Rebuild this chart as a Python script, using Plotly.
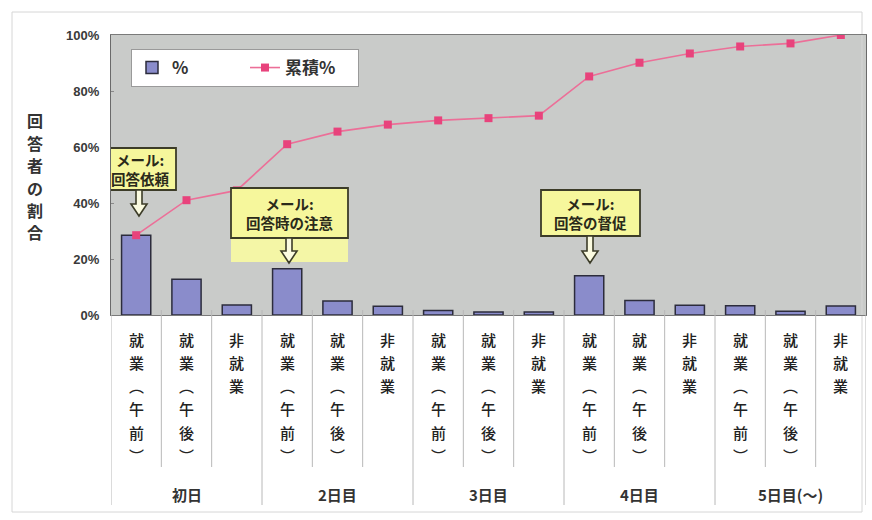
import plotly.graph_objects as go

# Response share per delivery slot (bars) and running total (line), in %
slot_labels = ["就業（午前）", "就業（午後）", "非就業"] * 5
day_labels = ["初日", "2日目", "3日目", "4日目", "5日目(～)"]
share_pct = [28.5, 12.8, 3.6, 16.5, 5.0, 3.1, 1.6, 1.1, 1.1, 14.0, 5.2, 3.5, 3.3, 1.3, 3.2]
cumulative_pct = [28.5, 41.0, 44.5, 61.0, 65.5, 68.0, 69.5, 70.3, 71.2, 85.2, 90.1, 93.4, 95.9, 97.0, 100.0]
y_ticks = [0, 20, 40, 60, 80, 100]
y_tick_text = ["0%", "20%", "40%", "60%", "80%", "100%"]
y_title = "回答者の割合"

# Reminder e-mail callouts: (slot index, box text)
callouts = [(0, "メール:<br>回答依頼"), (3, "メール:<br>回答時の注意"), (9, "メール:<br>回答の督促")]

W, H = 872, 520
ML, MR, MT, MB = 111, 6, 35, 205
PW, PH = W - ML - MR, H - MT - MB
N = len(share_pct)
XU = PW / N          # pixels per category
YU = PH / 100.0      # pixels per percent

JP = "Noto Sans CJK JP, sans-serif"
x_idx = list(range(N))

fig = go.Figure()
fig.add_trace(go.Bar(
    x=x_idx, y=share_pct, name="<b>%</b>", width=0.58,
    marker=dict(color="#8a8ccb", line=dict(color="#2c2c3c", width=1.5)),
))
fig.add_trace(go.Scatter(
    x=x_idx, y=cumulative_pct, name="<b>累積%</b>", mode="lines+markers",
    line=dict(color="#ec6f98", width=1.6),
    marker=dict(symbol="square", size=8, color="#e8437c"),
))

shapes = []
annotations = []

# vertical category labels, one glyph per row
vert_map = {"（": "︵", "）": "︶"}
row_y = [339, 362, 385, 408, 432, 455]
for i, lab in enumerate(slot_labels):
    for r, ch in enumerate(lab):
        annotations.append(dict(
            x=i, y=(MT + PH - row_y[r]) / PH, xref="x", yref="paper",
            text=vert_map.get(ch, ch), showarrow=False,
            font=dict(family=JP, size=15, color="#222222", weight=500),
            xanchor="center", yanchor="middle",
        ))

# separators below the axis
for b in range(N + 1):
    xb = b - 0.5
    group_edge = (b % 3 == 0)
    bottom = 505 if group_edge else 467
    shapes.append(dict(
        type="line", xref="x", yref="paper", x0=xb, x1=xb,
        y0=(MT + PH - bottom) / PH, y1=5 / PH if 0 < b < N else 0,
        line=dict(color="#b8b8b8", width=1),
    ))

# day group labels
for g, lab in enumerate(day_labels):
    annotations.append(dict(
        x=3 * g + 1, y=(MT + PH - 494) / PH, xref="x", yref="paper",
        text="<b>" + lab + "</b>", showarrow=False,
        font=dict(family=JP, size=15, color="#333333"),
        xanchor="center", yanchor="middle",
    ))

# y-axis title, stacked vertically one glyph at a time
for k, ch in enumerate(y_title):
    annotations.append(dict(
        x=(35 - ML) / PW, y=(MT + PH - (120 + 22.5 * k)) / PH, xref="paper", yref="paper",
        text="<b>" + ch + "</b>", showarrow=False,
        font=dict(family=JP, size=16, color="#333333"),
        xanchor="center", yanchor="middle",
    ))

# callout boxes with hollow down arrows (box edges given in pixel offsets)
box_px = [
    dict(l=104, r=176, t=148, b=190, ax=139, tip=216, pad=None),
    dict(l=231, r=348, t=188, b=238, ax=289, tip=263, pad=262),
    dict(l=541, r=640, t=190, b=236, ax=590, tip=263, pad=None),
]


def px_x(p):
    return (p - ML) / XU - 0.5


def px_y(p):
    return (MT + PH - p) / YU


for (idx, txt), bp in zip(callouts, box_px):
    if bp["pad"]:
        shapes.append(dict(
            type="rect", xref="x", yref="y",
            x0=px_x(bp["l"]), x1=px_x(bp["r"]), y0=px_y(bp["pad"]), y1=px_y(bp["b"]),
            fillcolor="#f4f6a6", line=dict(width=0), layer="above",
        ))
    shapes.append(dict(
        type="rect", xref="x", yref="y",
        x0=px_x(bp["l"]), x1=px_x(bp["r"]), y0=px_y(bp["b"]), y1=px_y(bp["t"]),
        fillcolor="#f6f79c", line=dict(color="#3c3c28", width=1.8), layer="above",
    ))
    cx, top, tip = bp["ax"], bp["b"], bp["tip"]
    neck = tip - 12
    pts = [(cx - 3, top), (cx + 3, top), (cx + 3, neck), (cx + 8, neck), (cx, tip),
           (cx - 8, neck), (cx - 3, neck)]
    path = "M " + " L ".join(f"{px_x(a):.4f},{px_y(c):.4f}" for a, c in pts) + " Z"
    shapes.append(dict(
        type="path", xref="x", yref="y", path=path,
        fillcolor="#fbfbe0", line=dict(color="#3c3c28", width=1.6), layer="above",
    ))
    annotations.append(dict(
        x=px_x((bp["l"] + bp["r"]) / 2), y=px_y((bp["t"] + bp["b"]) / 2),
        xref="x", yref="y", text="<b>" + txt.replace("<br>", "</b><br><b>") + "</b>",
        showarrow=False, font=dict(family=JP, size=14.5, color="#2a2a1a"),
        xanchor="center", yanchor="middle",
    ))

# faint outer frame of the chart
shapes.append(dict(
    type="rect", xref="paper", yref="paper",
    x0=(12 - ML) / PW, x1=(862 - ML) / PW, y0=(MT + PH - 512) / PH, y1=(MT + PH - 12) / PH,
    line=dict(color="#d6d6d6", width=1), fillcolor="rgba(0,0,0,0)", layer="below",
))

fig.update_layout(
    width=W, height=H,
    margin=dict(l=ML, r=MR, t=MT, b=MB),
    paper_bgcolor="white", plot_bgcolor="#c9cbc9",
    showlegend=True,
    legend=dict(
        orientation="h", x=(131 - ML) / PW, y=(MT + PH - 49) / PH,
        xanchor="left", yanchor="top",
        bgcolor="white", bordercolor="#9a9a9a", borderwidth=1,
        font=dict(family=JP, size=17, color="#333333"),
        entrywidth=68, entrywidthmode="pixels",
        itemwidth=30, tracegroupgap=0,
    ),
    xaxis=dict(
        range=[-0.5, N - 0.5], showticklabels=False, ticks="",
        showgrid=False, zeroline=False, showline=True,
        linecolor="#7a7a7a", linewidth=1.2, mirror=True, fixedrange=True,
    ),
    yaxis=dict(
        range=[0, 100], tickvals=y_ticks, ticktext=["<b>" + t + "</b>" for t in y_tick_text],
        ticks="inside", ticklen=3, tickcolor="#8a8a8a",
        showgrid=False, zeroline=False, showline=True,
        linecolor="#6a6a6a", linewidth=1.2, mirror=True,
        tickfont=dict(family="Liberation Sans, Arial, sans-serif", size=13, color="#3a3a3a"),
        ticklabelstandoff=8,
    ),
    shapes=shapes, annotations=annotations,
    bargap=0.4,
)

fig.write_html("out.html")
